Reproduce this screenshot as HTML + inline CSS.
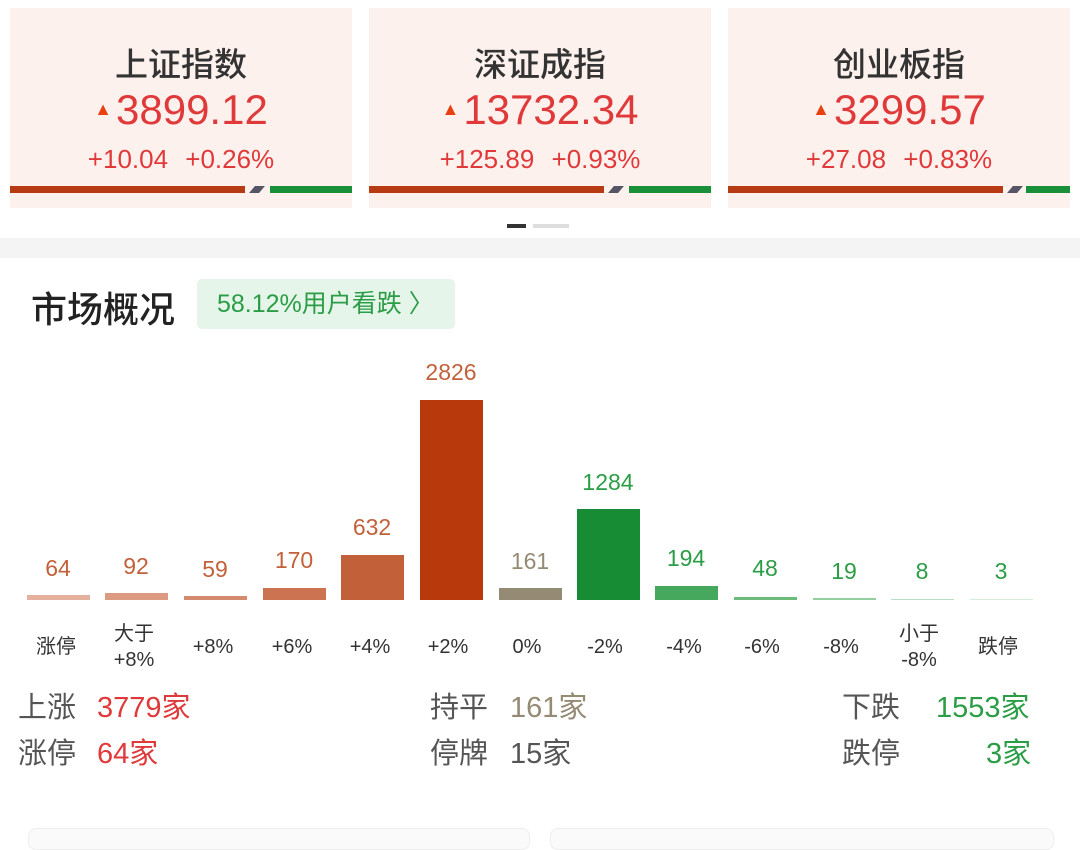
<!DOCTYPE html>
<html><head><meta charset="utf-8"><style>
body{margin:0;width:1080px;height:837px;background:#fff;position:relative;overflow:hidden;font-family:"Liberation Sans","Noto Sans CJK SC",sans-serif}
.a{position:absolute}
.card{position:absolute;top:8px;width:342px;height:200px;background:#fdf1ee}
.t{position:absolute;left:0;right:0;text-align:center;top:30px;font-size:33px;color:#333;font-weight:500}
.v{position:absolute;left:0;right:0;text-align:center;top:78px;font-size:42px;color:#e0393a}
.v span{font-size:18px;color:#e84010;vertical-align:9px;margin-right:4px}
.c{position:absolute;left:0;right:0;text-align:center;top:136px;font-size:26px;color:#e0393a;word-spacing:10px}
.bar{position:absolute;top:178px;height:7px}
.lbl{position:absolute;width:78px;text-align:center;font-size:20px;color:#333;line-height:26px}
.num{position:absolute;width:78px;text-align:center;font-size:23px}
.b{position:absolute;width:63px}
.s{position:absolute;font-size:29px}
</style></head><body>
<div class="card" style="left:10px"><div class="t">上证指数</div><div class="v"><span>▲</span>3899.12</div><div class="c">+10.04 +0.26%</div>
<div class="bar" style="left:0;width:235px;background:#b83a12"></div><div class="bar" style="left:242px;width:10px;background:#556;transform:skewX(-40deg)"></div><div class="bar" style="left:260px;width:82px;background:#1a8f3a"></div></div>
<div class="card" style="left:369px"><div class="t">深证成指</div><div class="v"><span>▲</span>13732.34</div><div class="c">+125.89 +0.93%</div>
<div class="bar" style="left:0;width:235px;background:#b83a12"></div><div class="bar" style="left:242px;width:10px;background:#556;transform:skewX(-40deg)"></div><div class="bar" style="left:260px;width:82px;background:#1a8f3a"></div></div>
<div class="card" style="left:728px"><div class="t">创业板指</div><div class="v"><span>▲</span>3299.57</div><div class="c">+27.08 +0.83%</div>
<div class="bar" style="left:0;width:275px;background:#b83a12"></div><div class="bar" style="left:282px;width:10px;background:#556;transform:skewX(-40deg)"></div><div class="bar" style="left:298px;width:44px;background:#1a8f3a"></div></div>
<div class="a" style="left:507px;top:224px;width:19px;height:4px;background:#333"></div>
<div class="a" style="left:533px;top:224px;width:36px;height:4px;background:#ddd"></div>
<div class="a" style="left:0;top:238px;width:1080px;height:20px;background:#f4f4f4"></div>
<div class="a" style="left:31px;top:281px;font-size:36px;color:#222;font-weight:500">市场概况</div>
<div class="a" style="left:197px;top:279px;width:258px;height:50px;background:#e6f5e9;border-radius:5px;color:#2a9d46;font-size:25px;line-height:50px;text-indent:20px">58.12%用户看跌 〉</div>

<div class="b" style="left:27px;top:595px;height:5px;background:#e5b09d"></div>
<div class="b" style="left:105px;top:593px;height:7px;background:#dc9a80"></div>
<div class="b" style="left:184px;top:596px;height:4px;background:#d48a6e"></div>
<div class="b" style="left:263px;top:588px;height:12px;background:#cc7452"></div>
<div class="b" style="left:341px;top:555px;height:45px;background:#c2603a"></div>
<div class="b" style="left:420px;top:400px;height:200px;background:#b83a0c"></div>
<div class="b" style="left:499px;top:588px;height:12px;background:#958a74"></div>
<div class="b" style="left:577px;top:509px;height:91px;background:#178c34"></div>
<div class="b" style="left:655px;top:586px;height:14px;background:#45a85c"></div>
<div class="b" style="left:734px;top:597px;height:3px;background:#6bbb7b"></div>
<div class="b" style="left:813px;top:598px;height:2px;background:#95cfa0"></div>
<div class="b" style="left:891px;top:599px;height:1px;background:#b8dfc0"></div>
<div class="b" style="left:970px;top:599px;height:1px;background:#d5ecd9"></div>

<div class="num" style="left:19px;top:555px;color:#c2603a">64</div>
<div class="num" style="left:97px;top:553px;color:#c2603a">92</div>
<div class="num" style="left:176px;top:556px;color:#c2603a">59</div>
<div class="num" style="left:255px;top:547px;color:#c2603a">170</div>
<div class="num" style="left:333px;top:514px;color:#c2603a">632</div>
<div class="num" style="left:412px;top:359px;color:#c2603a">2826</div>
<div class="num" style="left:491px;top:548px;color:#958a74">161</div>
<div class="num" style="left:569px;top:469px;color:#2a9d46">1284</div>
<div class="num" style="left:647px;top:545px;color:#2a9d46">194</div>
<div class="num" style="left:726px;top:555px;color:#2a9d46">48</div>
<div class="num" style="left:805px;top:558px;color:#2a9d46">19</div>
<div class="num" style="left:883px;top:558px;color:#2a9d46">8</div>
<div class="num" style="left:962px;top:558px;color:#2a9d46">3</div>

<div class="lbl" style="left:17px;top:634px">涨停</div>
<div class="lbl" style="left:95px;top:621px">大于<br>+8%</div>
<div class="lbl" style="left:174px;top:634px">+8%</div>
<div class="lbl" style="left:253px;top:634px">+6%</div>
<div class="lbl" style="left:331px;top:634px">+4%</div>
<div class="lbl" style="left:409px;top:634px">+2%</div>
<div class="lbl" style="left:488px;top:634px">0%</div>
<div class="lbl" style="left:566px;top:634px">-2%</div>
<div class="lbl" style="left:645px;top:634px">-4%</div>
<div class="lbl" style="left:723px;top:634px">-6%</div>
<div class="lbl" style="left:802px;top:634px">-8%</div>
<div class="lbl" style="left:880px;top:621px">小于<br>-8%</div>
<div class="lbl" style="left:959px;top:634px">跌停</div>

<div class="s" style="left:18px;top:684px;color:#555">上涨</div>
<div class="s" style="left:97px;top:684px;color:#e0393a">3779家</div>
<div class="s" style="left:18px;top:730px;color:#555">涨停</div>
<div class="s" style="left:97px;top:730px;color:#e0393a">64家</div>
<div class="s" style="left:430px;top:684px;color:#555">持平</div>
<div class="s" style="left:510px;top:684px;color:#958a74">161家</div>
<div class="s" style="left:430px;top:730px;color:#555">停牌</div>
<div class="s" style="left:510px;top:730px;color:#555">15家</div>
<div class="s" style="left:842px;top:684px;color:#555">下跌</div>
<div class="s" style="left:936px;top:684px;color:#2a9d46">1553家</div>
<div class="s" style="left:842px;top:730px;color:#555">跌停</div>
<div class="s" style="left:986px;top:730px;color:#2a9d46">3家</div>

<div class="a" style="left:28px;top:828px;width:500px;height:20px;border:1px solid #eee;border-radius:8px;background:#fafafa"></div>
<div class="a" style="left:550px;top:828px;width:502px;height:20px;border:1px solid #eee;border-radius:8px;background:#fafafa"></div>
</body></html>
